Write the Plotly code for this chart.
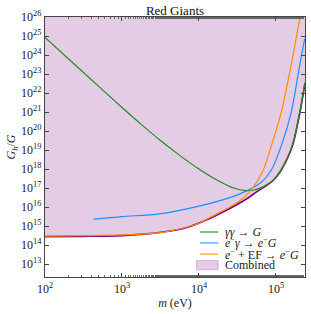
import plotly.graph_objects as go

# --- data ---
# gamma gamma -> G
m_gg = [1e2, 3.16e2, 1e3, 1.78e3, 3.16e3, 5.62e3, 1e4, 1.78e4, 2.82e4, 3.98e4, 5.25e4, 7.08e4, 8.71e4, 1.12e5, 1.41e5, 1.66e5, 2.04e5, 2.38e5]
G_gg = [8.3e24, 1.2e23, 1.74e21, 2.24e20, 3.16e19, 5.25e18, 1.0e18, 2.4e17, 1.0e17, 7.4e16, 7.9e16, 1.26e17, 2.0e17, 7.1e17, 4.0e18, 2.24e19, 1.0e21, 3.55e22]
# e- gamma -> e- G
m_eg = [4.27e2, 1e3, 3.09e3, 1e4, 2.51e4, 4.17e4, 6.46e4, 8.71e4, 1.2e5, 1.58e5, 2.04e5, 2.36e5]
G_eg = [2.3e15, 3.16e15, 4.4e15, 1.12e16, 3.16e16, 7.1e16, 2.0e17, 8.9e17, 2.24e19, 1.0e21, 3.16e23, 7.4e24]
# e- + EF -> e- G
m_ef = [1e2, 3.16e2, 1e3, 3.16e3, 6.31e3, 1e4, 1.38e4, 2.51e4, 3.55e4, 4.37e4, 5.5e4, 6.84e4, 8.91e4, 1.19e5, 1.62e5, 2.05e5]
G_ef = [2.95e14, 3.1e14, 3.4e14, 4.5e14, 7.9e14, 1.41e15, 2.8e15, 1.0e16, 2.5e16, 5.4e16, 1.78e17, 8.9e17, 2.24e19, 1.26e21, 5.4e23, 1e26]
# combined
m_cb = [1e2, 3.16e2, 1e3, 2.29e3, 6.31e3, 1.38e4, 2.51e4, 3.98e4, 5.62e4, 7.59e4, 8.91e4, 1.12e5, 1.41e5, 1.66e5, 2.04e5, 2.38e5]
G_cb = [2.8e14, 2.9e14, 3.16e14, 4.0e14, 7.4e14, 2.5e15, 8.3e15, 2.4e16, 6.3e16, 1.41e17, 2.24e17, 6.6e17, 3.7e18, 2.0e19, 8.9e20, 3.16e22]

x_ticks = [1e2, 1e3, 1e4, 1e5]
x_labels = ["10<sup>2</sup>", "10<sup>3</sup>", "10<sup>4</sup>", "10<sup>5</sup>"]
y_exps = list(range(13, 27))
y_ticks = [10.0 ** e for e in y_exps]
y_labels = ["10<sup>%d</sup>" % e for e in y_exps]

legend_labels = [
    "<i>γγ</i> → <i>G</i>",
    "<i>e</i><sup>−</sup><i>γ</i> → <i>e</i><sup>−</sup><i>G</i>",
    "<i>e</i><sup>−</sup> + EF → <i>e</i><sup>−</sup><i>G</i>",
    "Combined",
]

G_TOP = 1e26
FONT = "Liberation Serif"
C_GG = "rgb(34,139,34)"
C_EG = "rgb(30,144,255)"
C_EF = "rgb(255,140,0)"
C_CB_LINE = "rgb(128,0,128)"
C_CB_FILL = "rgb(229,204,229)"

fig = go.Figure()

fig.add_trace(go.Scatter(
    x=m_cb + m_cb[::-1], y=G_cb + [G_TOP] * len(m_cb),
    fill="toself", fillcolor=C_CB_FILL, mode="none",
    name=legend_labels[3], showlegend=False, hoverinfo="skip"))
fig.add_trace(go.Scatter(
    x=m_cb, y=G_cb, mode="lines", line=dict(color=C_CB_LINE, width=1.7, shape="spline", smoothing=0.8),
    showlegend=False))
fig.add_trace(go.Scatter(
    x=m_gg, y=G_gg, mode="lines", line=dict(color=C_GG, width=1.2, shape="spline", smoothing=0.8),
    name=legend_labels[0], showlegend=False))
fig.add_trace(go.Scatter(
    x=m_eg, y=G_eg, mode="lines", line=dict(color=C_EG, width=1.2, shape="spline", smoothing=0.8),
    name=legend_labels[1], showlegend=False))
fig.add_trace(go.Scatter(
    x=m_ef, y=G_ef, mode="lines", line=dict(color=C_EF, width=1.2, shape="spline", smoothing=0.8),
    name=legend_labels[2], showlegend=False))

axis_common = dict(
    showline=True, linecolor="#444", linewidth=1.3, mirror="allticks",
    ticks="inside", tickcolor="#444", ticklen=3.5, tickwidth=1, showgrid=False, zeroline=False,
    tickfont=dict(family=FONT, size=12, color="#222"), automargin=False,
)

fig.update_xaxes(type="log", range=[2, 5.377], tickvals=x_ticks, ticktext=x_labels,
                 minor=dict(ticks="inside", ticklen=2, tickwidth=0.7, tickcolor="#666", showgrid=False),
                 title=dict(text="<i>m</i> (eV)", font=dict(family=FONT, size=12, color="#222"), standoff=4),
                 **axis_common)
fig.update_yaxes(type="log", range=[12.32, 26], tickvals=y_ticks, ticktext=y_labels,
                 title=dict(text="<i>G<sub>h</sub></i>/<i>G</i>", font=dict(family=FONT, size=12, color="#222"), standoff=2),
                 **axis_common)

# manual legend (paper coords relative to plot area)
leg_colors = ["rgba(34,139,34,0.6)", "rgba(30,144,255,0.6)", "rgba(255,140,0,0.6)"]
leg_y = [0.173, 0.131, 0.088, 0.045]
shapes = []
annotations = []
for i in range(3):
    shapes.append(dict(type="line", xref="paper", yref="paper", x0=0.596, x1=0.666,
                       y0=leg_y[i], y1=leg_y[i], line=dict(color=leg_colors[i], width=1.8)))
shapes.append(dict(type="rect", xref="paper", yref="paper", x0=0.583, x1=0.666,
                   y0=0.028, y1=0.063, fillcolor=C_CB_FILL, line=dict(color="rgb(200,170,200)", width=0.8)))
for i in range(4):
    annotations.append(dict(text=legend_labels[i], xref="paper", yref="paper", x=0.683, y=leg_y[i],
                            xanchor="left", yanchor="middle", showarrow=False,
                            font=dict(family=FONT, size=12, color="#222")))

fig.update_layout(
    width=311, height=314,
    margin=dict(l=45, r=6, t=17, b=37),
    plot_bgcolor="white", paper_bgcolor="white",
    title=dict(text="Red Giants", x=0.5627, xanchor="center", y=0.968, yanchor="middle",
               font=dict(family=FONT, size=13, color="#111")),
    font=dict(family=FONT, size=12, color="#222"),
    showlegend=False,
    shapes=shapes, annotations=annotations,
)

fig.write_html("out.html", config={"displayModeBar": False},
               post_script="document.body.style.margin='0';")
